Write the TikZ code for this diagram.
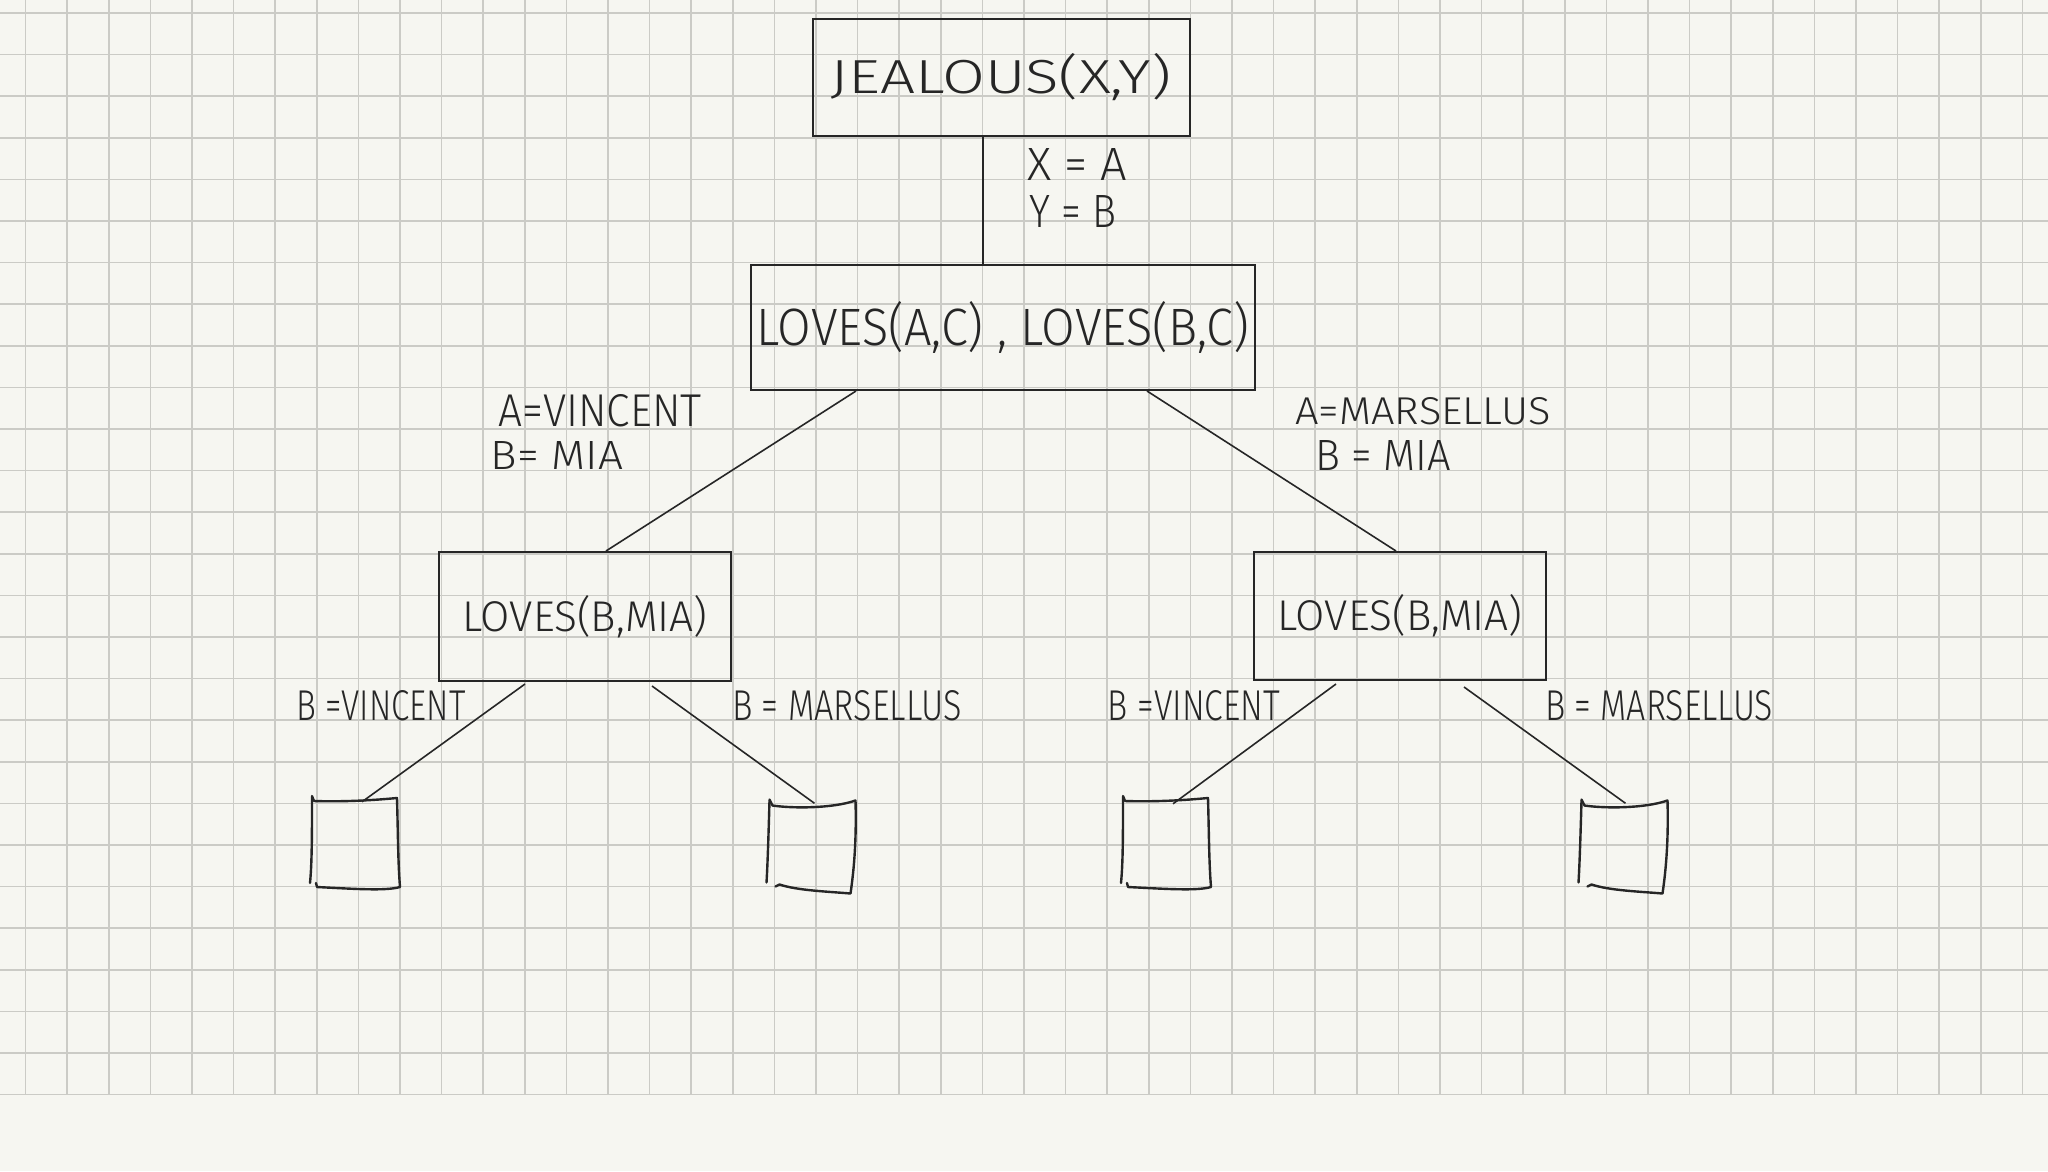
\documentclass[tikz,border=0pt]{standalone}
\usepackage{fontspec}
\setmainfont{Fira Sans Light}
\usetikzlibrary{calc}
\definecolor{paper}{RGB}{246,246,241}
\definecolor{gridc}{RGB}{203,203,198}
\definecolor{ink}{RGB}{38,38,38}
\newcommand\hw[3]{\resizebox{#1pt}{#2pt}{#3}}
\begin{document}
\begin{tikzpicture}[x=1pt,y=-1pt,
  box/.style={draw=ink, line width=2pt, inner sep=0pt, text=ink},
  edge/.style={draw=ink, line width=1.6pt},
  lbl/.style={text=ink, inner sep=0pt},
  leaf/.style={inner sep=0pt, minimum width=88, minimum height=92},
  hand/.style={draw=ink, line width=2.4pt, line cap=round, line join=round},
  leafA/.pic={
    \draw[hand] (-44,-47) -- (-42,-42) .. controls (-10,-41) and (20,-43) .. (41,-45)
      .. controls (42,-10) and (42,20) .. (44,44) .. controls (30,48) and (0,46) .. (-39,44) -- (-40,40);
    \draw[hand] (-44,-46) .. controls (-44,-10) and (-44,20) .. (-46,40);
  },
  leafB/.pic={
    \draw[hand] (-43,-47) -- (-40,-41) .. controls (-20,-38) and (20,-38) .. (43,-46)
      .. controls (44,-10) and (42,20) .. (38,47) .. controls (15,45) and (-15,44) .. (-33,38) -- (-37,40);
    \draw[hand] (-43,-46) .. controls (-44,-10) and (-45,20) .. (-46,36);
  }]
\fill[paper] (0,0) rectangle (2048,1171);
\useasboundingbox (0,0) rectangle (2048,1171);
\foreach \i in {0,...,48} \draw[gridc, line width=1.6pt] ({25.5+41.6*\i},0) -- ({25.5+41.6*\i},1095);
\foreach \j in {0,...,26} \draw[gridc, line width=1.6pt] (0,{12.9+41.6*\j}) -- (2048,{12.9+41.6*\j});

% boxes
\node[box, minimum width=377, minimum height=117] (top) at (1001,77) {\hw{340}{40}{JEALOUS(X,Y)}};
\node[box, minimum width=504, minimum height=125] (mid) at (1003,327.5) {\hw{492}{44}{LOVES(A,C) , LOVES(B,C)}};
\node[box, minimum width=292, minimum height=129] (left) at (585,616.5) {\hw{245}{36}{LOVES(B,MIA)}};
\node[box, minimum width=292, minimum height=128] (right) at (1400,616) {\hw{245}{36}{LOVES(B,MIA)}};

% leaves
\node[leaf] (leaf1) at (356,843) {};
\node[leaf] (leaf2) at (812.5,846.5) {};
\node[leaf] (leaf3) at (1167,843) {};
\node[leaf] (leaf4) at (1624.5,846.5) {};
\pic at (leaf1) {leafA};
\pic at (leaf2) {leafB};
\pic at (leaf3) {leafA};
\pic at (leaf4) {leafB};

% connectors
\draw[edge] ($(top.south)+(-18,0)$) -- ($(mid.north)+(-20,0)$);
\draw[edge] ($(mid.south)+(-147,0)$) -- ($(left.north)+(21,0)$);
\draw[edge] ($(mid.south)+(144,0)$) -- ($(right.north)+(-4,0)$);
\draw[edge] ($(left.south)+(-60,2)$) -- ($(leaf1.north)+(6,5)$);
\draw[edge] ($(left.south)+(67,4)$) -- ($(leaf2.north)+(2,3)$);
\draw[edge] ($(right.south)+(-64,3)$) -- ($(leaf3.north)+(6,7)$);
\draw[edge] ($(right.south)+(64,6)$) -- ($(leaf4.north)+(1,3)$);

% labels
\node[lbl] (xa) at (1077,164) {\hw{100}{32}{X = A}};
\node[lbl] (yb) at (1073,211) {\hw{87}{32}{Y = B}};
\node[lbl] (av) at (600,411) {\hw{203}{32}{A=VINCENT}};
\node[lbl] (bm1) at (557,455) {\hw{132}{28}{B= MIA}};
\node[lbl] (am) at (1423,411) {\hw{255}{27}{A=MARSELLUS}};
\node[lbl] (bm2) at (1383,455) {\hw{136}{30}{B = MIA}};
\node[lbl] (bv1) at (381,706) {\hw{169}{30}{B =VINCENT}};
\node[lbl] (bmar1) at (847,706) {\hw{230}{30}{B = MARSELLUS}};
\node[lbl] (bv2) at (1194,706) {\hw{172}{30}{B =VINCENT}};
\node[lbl] (bmar2) at (1659,706) {\hw{228}{30}{B = MARSELLUS}};
\end{tikzpicture}
\end{document}
